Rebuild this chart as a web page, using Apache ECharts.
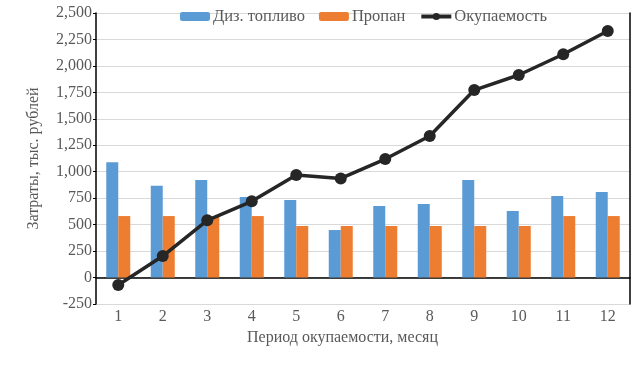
<!DOCTYPE html>
<html><head><meta charset="utf-8">
<script src="https://cdn.jsdelivr.net/npm/echarts@6/dist/echarts.min.js"></script>
<style>html,body{margin:0;padding:0;background:#fff}#c{width:643px;height:365px}</style>
</head><body><div id="c"></div>
<script>
const categories = ['1','2','3','4','5','6','7','8','9','10','11','12'];
const diesel = [1090, 868, 921, 761, 732, 449, 676, 695, 921, 628, 770, 808];
const propane = [581, 581, 581, 581, 487, 487, 487, 487, 487, 487, 581, 581];
const payback = [-71, 203, 541, 720, 969, 937, 1120, 1337, 1772, 1914, 2110, 2330];
const seriesNames = ['Диз. топливо', 'Пропан', 'Окупаемость'];

const font = 'Liberation Serif';
const txt = '#595959';
const chart = echarts.init(document.getElementById('c'));
chart.setOption({
  animation: false,
  textStyle: { fontFamily: font },
  legend: {
    top: 3, left: 175, itemGap: 14, itemWidth: 30, itemHeight: 9,
    textStyle: { fontFamily: font, fontSize: 16.5, color: txt, padding: [0, 0, 0, -2] },
    data: [seriesNames[0], seriesNames[1],
      { name: seriesNames[2], itemStyle: { color: '#262626' } }],
    lineStyle: { width: 4 }
  },
  grid: { left: 96, right: 13, top: 13, bottom: 61, outerBoundsMode: 'none', containLabel: false },
  xAxis: {
    type: 'category', data: categories,
    name: 'Период окупаемости, месяц', nameLocation: 'middle', nameGap: 24,
    nameTextStyle: { fontFamily: font, fontSize: 16, color: txt, padding: [0, 41, 0, 0] },
    axisLine: { onZero: true, lineStyle: { color: '#000', width: 1.5 } },
    axisTick: { show: false },
    axisLabel: { fontFamily: font, fontSize: 16, color: txt, margin: 5 }
  },
  yAxis: [{
    type: 'value', min: -250, max: 2500, interval: 250,
    name: 'Затраты, тыс. рублей', nameLocation: 'middle', nameGap: 54,
    nameTextStyle: { fontFamily: font, fontSize: 16, color: txt },
    axisLine: { show: true, onZero: false, lineStyle: { color: '#000', width: 1.5 } },
    axisTick: { show: true, length: 3, lineStyle: { color: '#000' } },
    axisLabel: { fontFamily: font, fontSize: 16, color: txt, margin: 4,
      formatter: v => v.toLocaleString('en-US') },
    splitLine: { lineStyle: { color: '#d9d9d9', width: 1.2 } }
  }, {
    type: 'value', min: -250, max: 2500, interval: 250, position: 'right',
    axisLine: { show: true, lineStyle: { color: '#000', width: 1.5 } },
    axisTick: { show: false }, axisLabel: { show: false }, splitLine: { show: false }
  }],
  series: [
    { name: seriesNames[0], type: 'bar', data: diesel, barWidth: 12, barGap: '0%',
      itemStyle: { color: '#5b9bd5' } },
    { name: seriesNames[1], type: 'bar', data: propane, barWidth: 12, barGap: '0%',
      itemStyle: { color: '#ed7d31' } },
    { name: seriesNames[2], type: 'line', data: payback, symbol: 'circle', symbolSize: 12,
      lineStyle: { color: '#262626', width: 3.5 }, itemStyle: { color: '#262626' }, z: 5 }
  ]
});
</script></body></html>
